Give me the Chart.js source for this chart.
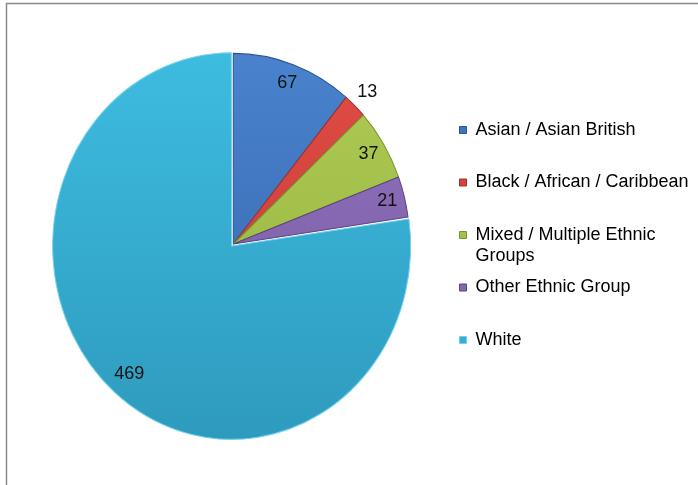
<!DOCTYPE html>
<html>
<head>
<meta charset="utf-8">
<script src="https://cdn.jsdelivr.net/npm/chart.js@4.4.1/dist/chart.umd.min.js"></script>
<style>
  html, body { margin: 0; padding: 0; background: #ffffff; }
  canvas { display: block; }
</style>
</head>
<body>
<canvas id="chart" width="698" height="485"></canvas>
<script>
// Ethnic group breakdown (head count)
const categories = [
  'Asian / Asian British',
  'Black / African / Caribbean',
  'Mixed / Multiple Ethnic Groups',
  'Other Ethnic Group',
  'White'
];
const counts = [67, 13, 37, 21, 469];

// Slice shading: lighter at the top of the pie, deeper at the bottom
const topColors    = ['#4a82cd', '#e14c46', '#afcd55', '#9373be', '#3dbce0'];
const bottomColors = ['#3465ab', '#c23832', '#91ae3b', '#7558a0', '#2e9bbe'];
const swatchColors = ['#3f74bf', '#d4433d', '#a2c147', '#8467b0', '#36add1'];
const edgeColors   = ['#2b5591', '#9f302c', '#7a9332', '#5a4381', '#72d2ed'];

const FONT_FAMILY = '"Liberation Sans", Arial, Helvetica, sans-serif';
const FONT_SIZE = 18;
const Y_STRETCH = 1.08;      // the pie is drawn slightly taller than wide
const PIE_RADIUS = 176.5;
const LEGEND_WRAP = 225;     // legend entries longer than this break onto a second line

function wrapText(text, ctx, maxWidth) {
  const words = text.split(' ');
  const lines = [];
  let line = '';
  words.forEach(w => {
    const test = line ? line + ' ' + w : w;
    if (line && ctx.measureText(test).width > maxWidth) {
      lines.push(line);
      line = w;
    } else {
      line = test;
    }
  });
  if (line) lines.push(line);
  return lines;
}

function sliceGradient(context) {
  const i = context.dataIndex;
  const area = context.chart.chartArea;
  if (!area) return swatchColors[i];
  const cy = (area.top + area.bottom) / 2;
  const g = context.chart.ctx.createLinearGradient(0, cy - PIE_RADIUS, 0, cy + PIE_RADIUS);
  g.addColorStop(0, topColors[i]);
  g.addColorStop(1, bottomColors[i]);
  return g;
}

// Plot frame along the top and left edges
const frame = {
  id: 'frame',
  beforeDraw(chart) {
    const ctx = chart.ctx;
    ctx.save();
    ctx.fillStyle = '#ffffff';
    ctx.fillRect(0, 0, chart.width, chart.height);
    ctx.strokeStyle = '#8a8a8a';
    ctx.lineWidth = 1.5;
    ctx.beginPath();
    ctx.moveTo(6.5, chart.height);
    ctx.lineTo(6.5, 3.5);
    ctx.lineTo(chart.width, 3.5);
    ctx.stroke();
    ctx.restore();
  }
};

// Stretch the pie vertically about its centre
const ellipse = {
  id: 'ellipse',
  beforeDatasetsDraw(chart) {
    const arc = chart.getDatasetMeta(0).data[0];
    const ctx = chart.ctx;
    ctx.save();
    ctx.translate(arc.x, arc.y);
    ctx.scale(1, Y_STRETCH);
    ctx.translate(-arc.x, -arc.y);
  },
  afterDatasetsDraw(chart) {
    chart.ctx.restore();
  }
};

// Value labels inside each slice (outside for very thin slices)
const sliceLabels = {
  id: 'sliceLabels',
  afterDatasetsDraw(chart) {
    const ctx = chart.ctx;
    const meta = chart.getDatasetMeta(0);
    ctx.save();
    ctx.font = FONT_SIZE + 'px ' + FONT_FAMILY;
    ctx.fillStyle = '#111111';
    ctx.textAlign = 'center';
    ctx.textBaseline = 'middle';
    meta.data.forEach((arc, i) => {
      const p = arc.getProps(['x', 'y', 'startAngle', 'endAngle', 'outerRadius'], true);
      const mid = (p.startAngle + p.endAngle) / 2;
      const f = (p.endAngle - p.startAngle) < 0.2 ? 1.1 : 0.9;
      const lx = p.x + Math.cos(mid) * p.outerRadius * f;
      const ly = p.y + Math.sin(mid) * p.outerRadius * f * Y_STRETCH;
      ctx.fillText(String(counts[i]), lx, ly);
    });
    ctx.restore();
  }
};

new Chart(document.getElementById('chart'), {
  type: 'pie',
  data: {
    labels: categories,
    datasets: [{
      data: counts,
      backgroundColor: sliceGradient,
      borderColor: edgeColors,
      borderWidth: 1,
      offset: [0, 0, 0, 0, 10],
      radius: PIE_RADIUS,
      clip: false
    }]
  },
  options: {
    responsive: false,
    animation: false,
    devicePixelRatio: 1,
    layout: { padding: { left: 17.6, right: 0, top: 8, bottom: 5 } },
    plugins: {
      tooltip: { enabled: false },
      legend: {
        position: 'right',
        maxWidth: 249,
        // empty heading only reserves a little space above the entries
        title: { display: true, text: '', padding: 0, font: { size: 6, lineHeight: 1 } },
        labels: {
          boxWidth: 7,
          boxHeight: 7,
          padding: 10.5,
          color: '#000000',
          font: { family: FONT_FAMILY, size: FONT_SIZE, lineHeight: 21 / FONT_SIZE },
          generateLabels(chart) {
            const ctx = chart.ctx;
            ctx.save();
            ctx.font = FONT_SIZE + 'px ' + FONT_FAMILY;
            const wrapped = categories.map(c => wrapText(c, ctx, LEGEND_WRAP));
            ctx.restore();
            const rows = Math.max(...wrapped.map(w => w.length));
            return wrapped.map((lines, i) => ({
              text: lines.concat(new Array(rows - lines.length).fill('')),
              fillStyle: swatchColors[i],
              strokeStyle: edgeColors[i],
              lineWidth: 1,
              fontColor: '#000000',
              hidden: !chart.getDataVisibility(i),
              index: i
            }));
          }
        }
      }
    }
  },
  plugins: [frame, ellipse, sliceLabels]
});
</script>
</body>
</html>
